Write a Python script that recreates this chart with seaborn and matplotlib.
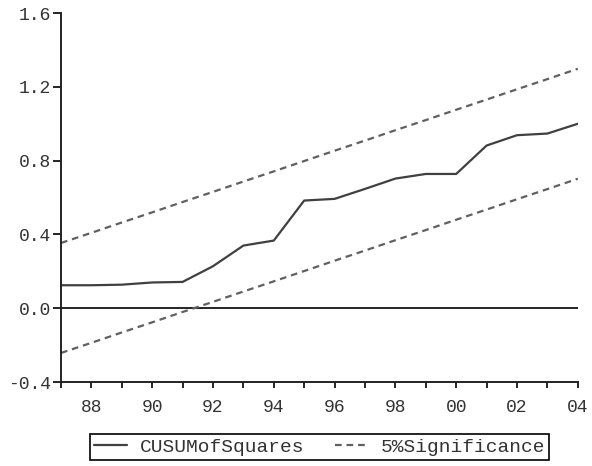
import matplotlib
matplotlib.use("Agg")
import matplotlib.pyplot as plt
import seaborn as sns
import pandas as pd
from matplotlib.ticker import MultipleLocator, FixedLocator, FixedFormatter

# Annual observations, 1987-2004
years = list(range(1987, 2005))

# CUSUM of squares statistic
cusum_sq = [0.125, 0.125, 0.128, 0.140, 0.143, 0.228, 0.340, 0.367, 0.584,
            0.593, 0.647, 0.703, 0.728, 0.728, 0.882, 0.938, 0.947, 1.000]

# 5% significance bounds
upper_bound = [0.354, 0.409, 0.465, 0.520, 0.576, 0.631, 0.687, 0.742, 0.798,
               0.854, 0.909, 0.965, 1.020, 1.076, 1.131, 1.187, 1.242, 1.298]
lower_bound = [-0.242, -0.187, -0.131, -0.076, -0.020, 0.035, 0.091, 0.146, 0.202,
               0.258, 0.313, 0.369, 0.424, 0.480, 0.535, 0.591, 0.646, 0.702]

xtick_years = [1988, 1990, 1992, 1994, 1996, 1998, 2000, 2002, 2004]
xtick_labels = ["88", "90", "92", "94", "96", "98", "00", "02", "04"]
ytick_values = [-0.4, 0.0, 0.4, 0.8, 1.2, 1.6]
ytick_labels = ["-0.4", "0.0", "0.4", "0.8", "1.2", "1.6"]

sns.set_style("ticks")
plt.rcParams["font.family"] = ["Liberation Mono", "DejaVu Sans Mono"]

fig = plt.figure(figsize=(5.92, 4.66), dpi=100)
ax = fig.add_axes([0.103, 0.180, 0.873, 0.792])

df = pd.DataFrame({
    "year": years * 3,
    "value": cusum_sq + upper_bound + lower_bound,
    "series": ["CUSUMofSquares"] * len(years)
              + ["5%Significance"] * len(years)
              + ["5%Significance_lo"] * len(years),
})

sns.lineplot(data=df[df.series == "CUSUMofSquares"], x="year", y="value",
             color="#404040", linewidth=1.6, ax=ax, label="CUSUMofSquares")
sns.lineplot(data=df[df.series == "5%Significance"], x="year", y="value",
             color="#606060", linewidth=1.6, linestyle=(0, (3, 2.2)), ax=ax,
             label="5%Significance")
sns.lineplot(data=df[df.series == "5%Significance_lo"], x="year", y="value",
             color="#606060", linewidth=1.6, linestyle=(0, (3, 2.2)), ax=ax,
             legend=False)

ax.axhline(0.0, color="black", linewidth=1.2, zorder=1)

ax.set_xlim(1987, 2004)
ax.set_ylim(-0.4, 1.6)
ax.xaxis.set_major_locator(FixedLocator(xtick_years))
ax.xaxis.set_major_formatter(FixedFormatter(xtick_labels))
ax.xaxis.set_minor_locator(MultipleLocator(1))
ax.yaxis.set_major_locator(FixedLocator(ytick_values))
ax.yaxis.set_major_formatter(FixedFormatter(ytick_labels))

ax.tick_params(axis="x", which="both", length=4, width=1.2, color="black",
               labelsize=13, labelcolor="#333333", pad=8)
ax.tick_params(axis="y", which="major", length=6, width=1.2, color="black",
               labelsize=13, labelcolor="#333333", pad=1)
ax.set_xlabel("")
ax.set_ylabel("")

sns.despine(ax=ax, top=True, right=True)
for side in ("left", "bottom"):
    ax.spines[side].set_linewidth(1.4)
    ax.spines[side].set_color("#222222")

ax.get_legend().remove()
handles, labels = ax.get_legend_handles_labels()
leg = fig.legend(handles, labels, loc="center", bbox_to_anchor=(0.54, 0.041),
                 ncol=2, frameon=True, fancybox=False, framealpha=1,
                 edgecolor="black", fontsize=14, handlelength=1.7,
                 handletextpad=0.65, columnspacing=1.6, borderpad=0.2,
                 borderaxespad=0.2)
leg.get_frame().set_linewidth(1.2)
for t in leg.get_texts():
    t.set_color("#333333")

fig.savefig("out.png", dpi=100)
